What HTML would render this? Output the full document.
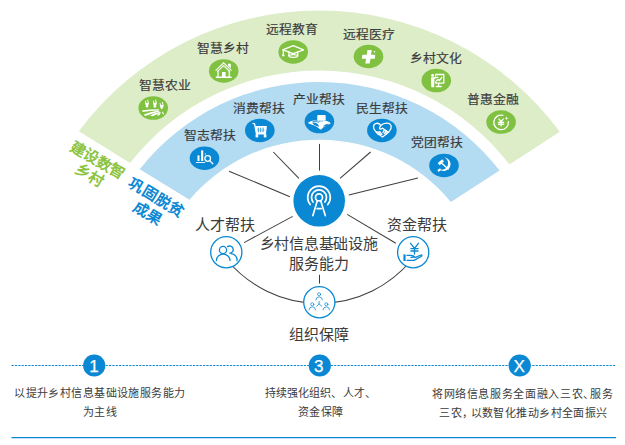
<!DOCTYPE html>
<html lang="zh-CN"><head><meta charset="utf-8"><title>diagram</title>
<style>html,body{margin:0;padding:0;background:#fff;width:625px;height:445px;overflow:hidden}
svg{display:block;font-family:"Liberation Sans",sans-serif}</style></head>
<body><svg width="625" height="445" viewBox="0 0 625 445">
<path d="M78.87,131.28 A299.5,299.5 0 0 1 559.82,131.67 L509.39,164.44 A239.5,239.5 0 0 0 130.07,163.06 Z" fill="#dcedc8"/>
<path d="M139.79,169.31 A228,228 0 0 1 499.55,170.51 L450.85,201.97 A170.3,170.3 0 0 0 189.45,199.70 Z" fill="#b3dbf2"/>
<text transform="translate(164.8,89.59) scale(1,0.935)" font-size="12.8" fill="#3b3b3b" stroke="#3b3b3b" stroke-width="0.18" text-anchor="middle" font-weight="normal" letter-spacing="0.6">智慧农业</text>
<text transform="translate(223.2,52.54) scale(1,0.935)" font-size="12.8" fill="#3b3b3b" stroke="#3b3b3b" stroke-width="0.18" text-anchor="middle" font-weight="normal" letter-spacing="0.6">智慧乡村</text>
<text transform="translate(292.45,33.99) scale(1,0.935)" font-size="12.8" fill="#3b3b3b" stroke="#3b3b3b" stroke-width="0.18" text-anchor="middle" font-weight="normal" letter-spacing="0.6">远程教育</text>
<text transform="translate(368.6,38.84) scale(1,0.935)" font-size="12.8" fill="#3b3b3b" stroke="#3b3b3b" stroke-width="0.18" text-anchor="middle" font-weight="normal" letter-spacing="0.6">远程医疗</text>
<text transform="translate(436.25,62.89) scale(1,0.935)" font-size="12.8" fill="#3b3b3b" stroke="#3b3b3b" stroke-width="0.18" text-anchor="middle" font-weight="normal" letter-spacing="0.6">乡村文化</text>
<text transform="translate(493.25,103.64) scale(1,0.935)" font-size="12.8" fill="#3b3b3b" stroke="#3b3b3b" stroke-width="0.18" text-anchor="middle" font-weight="normal" letter-spacing="0.6">普惠金融</text>
<text transform="translate(210.25,139.64) scale(1,0.935)" font-size="12.8" fill="#3b3b3b" stroke="#3b3b3b" stroke-width="0.18" text-anchor="middle" font-weight="normal" letter-spacing="0.6">智志帮扶</text>
<text transform="translate(259.35,112.69) scale(1,0.935)" font-size="12.8" fill="#3b3b3b" stroke="#3b3b3b" stroke-width="0.18" text-anchor="middle" font-weight="normal" letter-spacing="0.6">消费帮扶</text>
<text transform="translate(318.55,103.99) scale(1,0.935)" font-size="12.8" fill="#3b3b3b" stroke="#3b3b3b" stroke-width="0.18" text-anchor="middle" font-weight="normal" letter-spacing="0.6">产业帮扶</text>
<text transform="translate(381.85,112.69) scale(1,0.935)" font-size="12.8" fill="#3b3b3b" stroke="#3b3b3b" stroke-width="0.18" text-anchor="middle" font-weight="normal" letter-spacing="0.6">民生帮扶</text>
<text transform="translate(436.8,146.89) scale(1,0.935)" font-size="12.8" fill="#3b3b3b" stroke="#3b3b3b" stroke-width="0.18" text-anchor="middle" font-weight="normal" letter-spacing="0.6">党团帮扶</text>
<ellipse cx="153.2" cy="108.1" rx="14.8" ry="11.75" fill="#80c141"/>
<ellipse cx="223.7" cy="70.9" rx="14.8" ry="11.75" fill="#80c141"/>
<ellipse cx="293.2" cy="51.9" rx="14.8" ry="11.75" fill="#80c141"/>
<ellipse cx="368.5" cy="56.5" rx="14.8" ry="11.75" fill="#80c141"/>
<ellipse cx="436.3" cy="80.6" rx="14.8" ry="11.75" fill="#80c141"/>
<ellipse cx="501.1" cy="122.1" rx="14.8" ry="11.75" fill="#80c141"/>
<path d="M145.5,101.4 L145.9,103.10000000000001 M147.7,100.2 L148.3,102.9" stroke="#fff" stroke-width="1.0" stroke-linecap="round"/>
<path d="M145.2,102.9 L148.9,102.9 L148.7,104.60000000000001 L147.9,105.4 L148.6,106.39999999999999 L147.0,107.8 L145.4,106.39999999999999 L146.1,105.4 L145.3,104.60000000000001 Z" fill="#fff"/>
<path d="M153.4,101.2 L153.8,102.9 M155.6,100.0 L156.20000000000002,102.7" stroke="#fff" stroke-width="1.0" stroke-linecap="round"/>
<path d="M153.1,102.7 L156.8,102.7 L156.6,104.4 L155.8,105.2 L156.5,106.6 L154.9,108.0 L153.3,106.6 L154.0,105.2 L153.20000000000002,104.4 Z" fill="#fff"/>
<path d="M160.2,103.60000000000001 L160.6,105.30000000000001 M162.39999999999998,102.4 L163.0,105.10000000000001" stroke="#fff" stroke-width="1.0" stroke-linecap="round"/>
<path d="M159.89999999999998,105.10000000000001 L163.6,105.10000000000001 L163.39999999999998,106.80000000000001 L162.6,107.60000000000001 L163.29999999999998,107.8 L161.7,109.2 L160.1,107.8 L160.79999999999998,107.60000000000001 L160.0,106.80000000000001 Z" fill="#fff"/>
<path d="M142.3,110.2 Q150,109.4 158.8,109.3 L158.8,110.5 Q150,110.9 142.5,112.0 Z" fill="#fff"/>
<path d="M143.8,114.4 Q151,111.6 159.2,110.6 L159.5,111.5 Q152,113.6 145.2,115.9 Z" fill="#fff"/>
<path d="M149.9,115.6 Q154.5,113.0 159.8,111.8 L160.1,112.4 Q156.5,114.4 152.8,116.3 Z" fill="#fff"/>
<path d="M156.8,115.3 Q158.2,113.4 160.4,112.2 L160.9,112.5 Q160.2,114.0 159.2,115.4 Z" fill="#fff"/>
<path d="M161.7,111.9 L162.5,111.6 Q163.6,112.8 164.0,114.2 L163.0,114.6 Q162.6,113.2 161.7,111.9 Z" fill="#fff"/>
<path d="M215.6,70.6 L223.6,62.8 L231.6,70.6 M217.2,71.8 L223.6,65.6 L230,71.8" fill="none" stroke="#fff" stroke-width="1.05" stroke-linejoin="miter"/>
<path d="M228.0,63.8 L230.8,63.8 L230.8,68.2 L228.0,65.6 Z" fill="#fff"/>
<path d="M217.4,70.6 L218.6,70.6 L218.6,76.6 L228.6,76.6 L228.6,70.6 L229.8,70.6 L229.8,76.6 L231.6,76.6 L231.6,77.9 L215.8,77.9 L215.8,76.6 L217.4,76.6 Z" fill="#fff"/>
<rect x="222.0" y="72.0" width="3.6" height="5" fill="#fff"/>
<path d="M282.8,49.8 L293.2,45.7 L303.6,49.8 L293.2,53.6 Z" fill="none" stroke="#fff" stroke-width="1.3" stroke-linecap="round" stroke-linejoin="round" stroke-width="1.2"/>
<path d="M288.9,51.7 L288.9,55.8 M297.7,51.7 L297.7,55.8" fill="none" stroke="#fff" stroke-width="1.3" stroke-linecap="round" stroke-linejoin="round" stroke-width="1.1"/>
<ellipse cx="293.3" cy="56" rx="4.4" ry="1.3" fill="none" stroke="#fff" stroke-width="1.3" stroke-linecap="round" stroke-linejoin="round" stroke-width="1.1"/>
<path d="M283.3,50.2 L283.3,54.6" fill="none" stroke="#fff" stroke-width="1.3" stroke-linecap="round" stroke-linejoin="round" stroke-width="1.1"/>
<path d="M282.3,54.4 L284.3,54.4 L284.6,56.2 L282,56.2 Z" fill="#fff"/>
<path d="M367.5,50.1 L371.7,50.1 L371.1,54.7 L375.3,54.7 L374.8,58.8 L370.5,58.8 L369.6,63.6 L365.3,63.6 L366.1,58.8 L361.8,58.8 L362.4,54.7 L366.8,54.7 Z" fill="#fff"/>
<circle cx="374.5" cy="51.8" r="0.8" fill="#fff"/>
<path d="M435.6,76.0 L435.6,74.5 L443.8,74.5 L443.8,83.1 L435.6,83.1 L435.6,81.8" fill="none" stroke="#fff" stroke-width="1.3" stroke-linecap="round" stroke-linejoin="round" stroke-width="1.05" stroke-linecap="butt"/>
<path d="M438.6,83.1 L438.6,86.2 M436.2,86.5 L441.2,86.5 M436.4,80.8 L438.2,79.6 L439.4,80.6 L441.8,77.4" fill="none" stroke="#fff" stroke-width="1.3" stroke-linecap="round" stroke-linejoin="round" stroke-width="1.0"/>
<circle cx="432.6" cy="75.4" r="1.45" fill="#fff"/>
<path d="M431.0,77.2 L434.4,77.2 L434.4,81.8 L434.1,87.2 L431.3,87.2 L431.0,81.8 Z" fill="#fff"/>
<path d="M433.8,78.0 L437.9,77.4" fill="none" stroke="#fff" stroke-width="1.3" stroke-linecap="round" stroke-linejoin="round" stroke-width="1.1"/>
<path d="M508.36,121.64 A7.3,7.3 0 1 1 502.87,115.32" fill="none" stroke="#fff" stroke-width="1.3" stroke-linecap="round" stroke-linejoin="round" stroke-width="0.95"/>
<path d="M499.0,119.1 L501.1,121.7 L503.2,119.1 M501.1,121.7 L501.1,125.9 M498.5,122.5 L503.7,122.5 M498.5,124.3 L503.7,124.3" fill="none" stroke="#fff" stroke-width="1.3" stroke-linecap="round" stroke-linejoin="round" stroke-width="0.95" stroke-linecap="butt"/>
<path d="M506.5,116.2 L507.0,117.7 L508.5,118.2 L507.0,118.7 L506.5,120.2 L506.0,118.7 L504.5,118.2 L506.0,117.7 Z" fill="#fff"/>
<ellipse cx="204.5" cy="158.3" rx="14.8" ry="11.75" fill="#0b88d3"/>
<ellipse cx="259.8" cy="130.4" rx="14.8" ry="11.75" fill="#0b88d3"/>
<ellipse cx="319.4" cy="121.6" rx="14.8" ry="11.75" fill="#0b88d3"/>
<ellipse cx="381.9" cy="130.4" rx="14.8" ry="11.75" fill="#0b88d3"/>
<ellipse cx="444" cy="165.4" rx="14.8" ry="11.75" fill="#0b88d3"/>
<rect x="197.5" y="155.4" width="2.0" height="5.6" fill="#fff"/><rect x="201.1" y="150.4" width="2.1" height="10.6" fill="#fff"/>
<path d="M204.6,153.4 L206.2,153.6 L205.2,155 Z" fill="#fff"/>
<rect x="195.9" y="162.1" width="9.3" height="0.9" fill="#fff"/>
<circle cx="207.7" cy="158.5" r="2.8" fill="none" stroke="#fff" stroke-width="1.3" stroke-linecap="round" stroke-linejoin="round" stroke-width="0.95"/><path d="M209.7,160.6 L212.8,163.8" fill="none" stroke="#fff" stroke-width="1.3" stroke-linecap="round" stroke-linejoin="round" stroke-width="1.0"/>
<path d="M253.0,123.4 L254.6,123.8 L256.4,133.6" fill="none" stroke="#fff" stroke-width="1.3" stroke-linecap="round" stroke-linejoin="round" stroke-width="1.5"/>
<path d="M255.4,126.0 L266.9,126.0 L265.9,134.4 L256.5,134.4 Z" fill="#fff"/>
<path d="M258.2,127.6 L258.4,132.2 M260.7,127.6 L260.7,132.2 M263.2,127.6 L263.0,132.2" stroke="#0b88d3" stroke-width="0.85" fill="none"/>
<path d="M257.4,130.0 L265.4,130.0" stroke="#0b88d3" stroke-width="0.5" fill="none" opacity="0.6"/>
<rect x="255.6" y="134.2" width="2.6" height="3.2" fill="#fff"/><rect x="263.8" y="134.2" width="2.6" height="3.2" fill="#fff"/>
<path d="M317.3,114.9 L325.6,114.9 L325.4,116.2 L326.0,117.2 L325.4,118.4 L325.9,119.6 L325.2,120.8 L317.6,120.8 L317.0,119.8 L317.6,118.6 L316.9,117.6 L317.6,116.4 Z" fill="#fff"/>
<path d="M307.7,123.0 Q310.5,120.9 313.4,120.6 Q317.4,120.4 320.0,121.6 Q323.0,120.4 326.0,120.7 Q329.0,121.2 330.9,123.2 Q328.6,124.6 326.4,125.6 Q323.2,127.0 321.2,129.6 L320.2,129.6 Q318.0,126.8 314.2,125.4 Q310.6,124.2 307.7,123.0 Z" fill="#fff"/>
<path d="M312.2,122.6 Q317.4,122.0 319.2,126.4 Q314.2,126.6 312.2,122.6 Z M322.6,126.5 Q325.6,123.3 329.2,123.7 Q326.6,126.5 322.6,126.5 Z" fill="#0b88d3"/>
<path d="M312.6,121.5 Q316.0,120.8 319.0,122.4" fill="none" stroke="#0b88d3" stroke-width="0.85"/>
<circle cx="319.6" cy="121.6" r="0.45" fill="#0b88d3"/><circle cx="322.5" cy="121.6" r="0.45" fill="#0b88d3"/>
<path d="M382.5,137.0 C378.5,134.4 373.2,130.6 373.5,126.6 C373.9,122.6 378.2,122.2 380.9,125.4 C383.6,122.4 390.6,122.0 391.2,126.3 C391.8,129.6 387.6,133.4 382.5,137.0 Z" fill="none" stroke="#fff" stroke-width="1.3" stroke-linecap="round" stroke-linejoin="round" stroke-width="1.0"/>
<path d="M381.0,125.4 L379.6,127.4 Q379.2,129.4 381.0,129.0 L382.6,128.2 L388.6,132.6" fill="none" stroke="#fff" stroke-width="1.3" stroke-linecap="round" stroke-linejoin="round" stroke-width="0.95"/>
<path d="M376.2,131.8 L378.4,134.6 M378.0,131.6 L380.4,134.8 M379.8,131.6 L382.0,134.6 M384.6,129.6 L383.0,132.4 M386.2,130.6 L384.4,133.6 M387.6,131.6 L385.8,134.4" fill="none" stroke="#fff" stroke-width="1.3" stroke-linecap="round" stroke-linejoin="round" stroke-width="0.8"/>
<path d="M444.3,157.5 A6.7,6.7 0 1 1 439.4,169.2 A6.3,6.3 0 0 0 444.3,157.5 Z" fill="#fff"/>
<path d="M437.4,170.0 L440.0,168.2 L441.2,169.8 L438.6,172.0 Z" fill="#fff"/>
<g transform="translate(440.9,162.3) rotate(-40)"><rect x="-2.9" y="-1.4" width="5.8" height="2.8" fill="#fff"/></g>
<path d="M441.4,163.0 L448.2,169.0" fill="none" stroke="#fff" stroke-width="1.3" stroke-linecap="round" stroke-linejoin="round" stroke-width="1.7" stroke-linecap="butt"/>
<text x="0" y="0" transform="translate(95.2,164.8) rotate(30)" font-size="15" fill="#8cc43f" font-weight="bold" text-anchor="middle" letter-spacing="0.3">建设数智</text>
<text x="0" y="0" transform="translate(86.9,179.5) rotate(30)" font-size="15" fill="#8cc43f" font-weight="bold" text-anchor="middle" letter-spacing="0.3">乡村</text>
<text x="0" y="0" transform="translate(153.8,202.2) rotate(31)" font-size="15" fill="#0b88d3" font-weight="bold" text-anchor="middle" letter-spacing="0.5">巩固脱贫</text>
<text x="0" y="0" transform="translate(144.9,217.9) rotate(31)" font-size="15" fill="#0b88d3" font-weight="bold" text-anchor="middle" letter-spacing="0.5">成果</text>
<path d="M229.1,171.2 L289.9,196.8" stroke="#3f3f3f" stroke-width="1.05" fill="none"/>
<path d="M273.3,152 L298.9,178.4" stroke="#3f3f3f" stroke-width="1.05" fill="none"/>
<path d="M319.5,143.9 L319.5,170.6" stroke="#3f3f3f" stroke-width="1.05" fill="none"/>
<path d="M370.6,152 L340,178.4" stroke="#3f3f3f" stroke-width="1.05" fill="none"/>
<path d="M417.9,178.1 L348.8,194.9" stroke="#3f3f3f" stroke-width="1.05" fill="none"/>
<path d="M347.2,214.4 L395.8,243.2" stroke="#3f3f3f" stroke-width="1.05" fill="none"/>
<path d="M292.7,216.4 L244.1,242.6" stroke="#3f3f3f" stroke-width="1.05" fill="none"/>
<path d="M319.5,274.8 L319.5,283.6" stroke="#3f3f3f" stroke-width="1.05" fill="none"/>
<path d="M227.53,260.51 A119.8,119.8 0 0 0 411.07,260.51" stroke="#3f3f3f" stroke-width="1.05" fill="none"/>
<circle cx="319.2" cy="200.8" r="25.8" fill="#0b88d3"/>
<circle cx="319" cy="197.4" r="3.5" fill="none" stroke="#fff" stroke-width="1.7" stroke-linecap="round" stroke-linejoin="round"/>
<path d="M313.09,202.02 A7.5,7.5 0 1 1 324.91,202.02" fill="none" stroke="#fff" stroke-width="1.7" stroke-linecap="round" stroke-linejoin="round"/>
<path d="M310.22,204.51 A11.3,11.3 0 1 1 327.78,204.51" fill="none" stroke="#fff" stroke-width="1.7" stroke-linecap="round" stroke-linejoin="round"/>
<path d="M317.3,200.8 L312.9,215.6 M320.7,200.8 L325.3,215.6 M317.1,208.6 L321.1,208.6" fill="none" stroke="#fff" stroke-width="1.7" stroke-linecap="round" stroke-linejoin="round"/>
<circle cx="226.3" cy="252.2" r="15.6" fill="#fff" stroke="#0b88d3" stroke-width="1.3"/>
<circle cx="413.2" cy="252.3" r="15.6" fill="#fff" stroke="#0b88d3" stroke-width="1.3"/>
<circle cx="319.3" cy="302.3" r="15.6" fill="#fff" stroke="#0b88d3" stroke-width="1.3"/>
<circle cx="223" cy="250" r="3.6" fill="none" stroke="#0b88d3" stroke-width="1.3" stroke-linecap="round" stroke-linejoin="round"/>
<path d="M216.4,260.6 A6.8,6.4 0 0 1 230,260.6" fill="none" stroke="#0b88d3" stroke-width="1.3" stroke-linecap="round" stroke-linejoin="round"/>
<path d="M227.6,246.6 A3.6,3.6 0 1 1 229.8,253.2 M231.2,253.6 A6.6,6.4 0 0 1 237,260.6" fill="none" stroke="#0b88d3" stroke-width="1.3" stroke-linecap="round" stroke-linejoin="round"/>
<path d="M410.6,243.3 L414.5,248.4 L418.4,243.3 M414.5,248.4 L414.5,254 M410.9,248.6 L418.1,248.6 M410.9,251 L418.1,251" fill="none" stroke="#0b88d3" stroke-width="1.3" stroke-linecap="round" stroke-linejoin="round" stroke-width="1.1"/>
<rect x="403.4" y="254.4" width="2.2" height="6.6" fill="#0b88d3"/>
<path d="M407,255.4 L410,255.4 Q414,255.4 414.6,257 L411,257.4 M407,260.4 L414,260.4 L421.6,256.2 Q422.6,255 421,255 L415.4,257.4" fill="none" stroke="#0b88d3" stroke-width="1.3" stroke-linecap="round" stroke-linejoin="round" stroke-width="1.1"/>
<circle cx="319.1" cy="294.3" r="1.55" fill="none" stroke="#0b88d3" stroke-width="0.75" stroke-linecap="round" stroke-linejoin="round"/>
<path d="M315.8,299.90000000000003 Q316.1,296.90000000000003 319.1,296.8 Q322.1,296.90000000000003 322.40000000000003,299.90000000000003" fill="none" stroke="#0b88d3" stroke-width="0.75" stroke-linecap="round" stroke-linejoin="round"/>
<circle cx="312.3" cy="304.3" r="1.55" fill="none" stroke="#0b88d3" stroke-width="0.75" stroke-linecap="round" stroke-linejoin="round"/>
<path d="M309.0,309.90000000000003 Q309.3,306.90000000000003 312.3,306.8 Q315.3,306.90000000000003 315.6,309.90000000000003" fill="none" stroke="#0b88d3" stroke-width="0.75" stroke-linecap="round" stroke-linejoin="round"/>
<circle cx="326.3" cy="304.3" r="1.55" fill="none" stroke="#0b88d3" stroke-width="0.75" stroke-linecap="round" stroke-linejoin="round"/>
<path d="M323.0,309.90000000000003 Q323.3,306.90000000000003 326.3,306.8 Q329.3,306.90000000000003 329.6,309.90000000000003" fill="none" stroke="#0b88d3" stroke-width="0.75" stroke-linecap="round" stroke-linejoin="round"/>
<path d="M319.1,301.4 L319.1,304.0 L316.6,306.2 M319.1,304.0 L321.6,306.2" fill="none" stroke="#0b88d3" stroke-width="0.75" stroke-linecap="round" stroke-linejoin="round"/>
<text x="318.55" y="249.24" font-size="15" fill="#3b3b3b" text-anchor="middle" font-weight="normal" letter-spacing="-0.3">乡村信息基础设施</text>
<text x="318.5" y="268.64" font-size="15" fill="#3b3b3b" text-anchor="middle" font-weight="normal">服务能力</text>
<text x="225.05" y="229.94" font-size="15" fill="#3b3b3b" text-anchor="middle" font-weight="normal">人才帮扶</text>
<text x="416.5" y="230.14" font-size="15" fill="#3b3b3b" text-anchor="middle" font-weight="normal">资金帮扶</text>
<text x="319.0" y="339.74" font-size="15" fill="#3b3b3b" text-anchor="middle" font-weight="normal">组织保障</text>
<line x1="11.5" y1="365.5" x2="616" y2="365.5" stroke="#0b88d3" stroke-width="1" stroke-dasharray="2.25 1.11"/>
<line x1="11.5" y1="437.5" x2="616" y2="437.5" stroke="#0b88d3" stroke-width="1.25"/>
<circle cx="94.2" cy="365.5" r="11.1" fill="#0b88d3"/>
<text x="94.0" y="372.0" font-size="17" fill="#fff" stroke="#fff" stroke-width="0.25" text-anchor="middle">1</text>
<circle cx="319.8" cy="365.5" r="11.1" fill="#0b88d3"/>
<text x="318.8" y="372.0" font-size="17" fill="#fff" stroke="#fff" stroke-width="0.25" text-anchor="middle">3</text>
<circle cx="519.7" cy="365.5" r="11.1" fill="#0b88d3"/>
<text x="519.05" y="372.0" font-size="17" fill="#fff" stroke="#fff" stroke-width="0.25" text-anchor="middle">X</text>
<text x="99.81" y="397.06" font-size="11" fill="#3b3b3b" text-anchor="middle" font-weight="normal" letter-spacing="0.43">以提升乡村信息基础设施服务能力</text>
<text x="99.81" y="416.36" font-size="11" fill="#3b3b3b" text-anchor="middle" font-weight="normal" letter-spacing="0.43">为主线</text>
<text x="320.27" y="397.06" font-size="11" fill="#3b3b3b" text-anchor="middle" font-weight="normal" letter-spacing="0.13">持续强化组织、人才、</text>
<text x="320.81" y="416.36" font-size="11" fill="#3b3b3b" text-anchor="middle" font-weight="normal" letter-spacing="0.43">资金保障</text>
<text x="522.83" y="397.56" font-size="11" fill="#3b3b3b" text-anchor="middle" letter-spacing="0.65">将网络信息服务全面融入三农、<tspan dx="-4.5">服务</tspan></text>
<text x="523.51" y="416.96" font-size="11" fill="#3b3b3b" text-anchor="middle" letter-spacing="0.43">三农，<tspan dx="-3">以数智化推动乡村全面振兴</tspan></text>
</svg></body></html>
